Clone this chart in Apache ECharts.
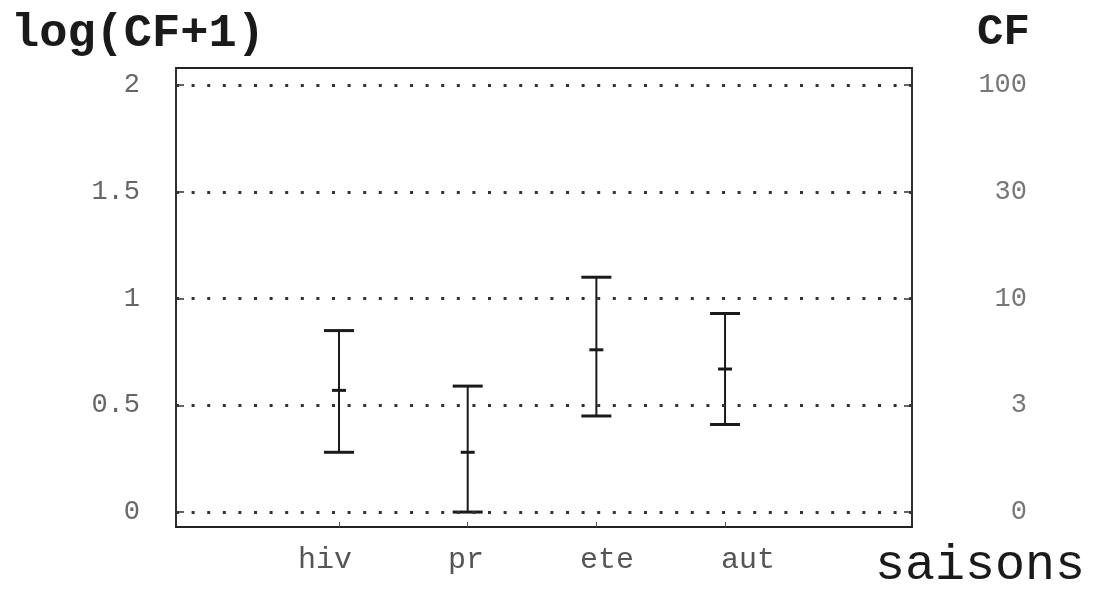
<!DOCTYPE html>
<html>
<head>
<meta charset="utf-8">
<script src="https://cdn.jsdelivr.net/npm/echarts@6/dist/echarts.min.js"></script>
<style>html,body{margin:0;padding:0;background:#fff}#c{width:1099px;height:589px}</style>
</head>
<body>
<div id="c"></div>
<script>
// ---- data ----
const categories = ['hiv', 'pr', 'ete', 'aut'];
const lowValues  = [0.28, 0.00, 0.45, 0.41];
const meanValues = [0.57, 0.28, 0.76, 0.67];
const highValues = [0.85, 0.59, 1.10, 0.93];
const leftTickValues = [0, 0.5, 1, 1.5, 2];
const leftTickLabels = ['0', '0.5', '1', '1.5', '2'];
const rightTickLabels = ['0', '3', '10', '30', '100'];
const yTitle = 'log(CF+1)';
const y2Title = 'CF';
const xTitle = 'saisons';

const chart = echarts.init(document.getElementById('c'));
const mono = 'Liberation Mono';
const barData = categories.map((c, i) => [i + 1, lowValues[i], meanValues[i], highValues[i]]);
const catPositions = categories.map((c, i) => i + 1);

chart.setOption({
  animation: false,
  backgroundColor: '#fff',
  title: [
    { text: yTitle, left: 6, top: 6, textStyle: { fontFamily: mono, fontWeight: 'bold', fontSize: 47, color: '#1a1a1a' } },
    { text: y2Title, left: 972, top: 6, textStyle: { fontFamily: mono, fontWeight: 'bold', fontSize: 44, color: '#1a1a1a' } },
    { text: xTitle, left: 870, top: 536, textStyle: { fontFamily: mono, fontWeight: 'normal', fontSize: 50, color: '#1a1a1a' } }
  ],
  grid: { left: 176, right: 187, top: 68, bottom: 62, show: true, borderColor: '#222', borderWidth: 2, backgroundColor: 'transparent' },
  xAxis: [
    {
      type: 'value', min: -0.267, max: 5.453, position: 'bottom',
      axisLine: { show: true, onZero: false, lineStyle: { color: '#222', width: 2 } },
      axisTick: { show: true, inside: true, length: 5, customValues: catPositions, lineStyle: { color: '#555' } },
      axisLabel: { show: false },
      splitLine: { show: false }
    },
    {
      type: 'value', min: -0.057, max: 5.163, position: 'bottom',
      axisLine: { show: false, onZero: false }, axisTick: { show: false },
      axisLabel: {
        show: true, customValues: catPositions, margin: 18,
        formatter: v => categories[Math.round(v) - 1] || '',
        fontFamily: mono, fontSize: 30, color: '#555'
      },
      splitLine: { show: false }
    }
  ],
  yAxis: [
    {
      type: 'value', min: -0.07, max: 2.08, position: 'left',
      axisLine: { show: true, onZero: false, lineStyle: { color: '#333', width: 1.5 } },
      axisTick: { show: true, inside: true, length: 8, customValues: leftTickValues, lineStyle: { color: '#333', width: 1.5 } },
      axisLabel: {
        customValues: leftTickValues, margin: 36, fontFamily: mono, fontSize: 27, color: '#666',
        formatter: v => leftTickLabels[leftTickValues.indexOf(v)] ?? ''
      },
      splitLine: { show: false }
    },
    {
      type: 'value', min: -0.07, max: 2.08, position: 'right',
      axisLine: { show: true, onZero: false, lineStyle: { color: '#333', width: 1.5 } },
      axisTick: { show: true, inside: true, length: 8, customValues: leftTickValues, lineStyle: { color: '#333', width: 1.5 } },
      axisLabel: {
        customValues: leftTickValues, margin: 115, align: 'right', fontFamily: mono, fontSize: 27, color: '#777',
        formatter: v => rightTickLabels[leftTickValues.indexOf(v)] ?? ''
      },
      splitLine: { show: false }
    }
  ],
  series: [
    {
      type: 'line', xAxisIndex: 0, yAxisIndex: 0, data: [], silent: true,
      markLine: {
        symbol: 'none', silent: true, label: { show: false },
        lineStyle: { color: '#333', width: 3, type: [3, 12.6] },
        data: leftTickValues.map(v => ({ yAxis: v }))
      }
    },
    {
      type: 'custom', xAxisIndex: 0, yAxisIndex: 0, data: barData,
      renderItem: function (params, api) {
        const x = api.value(0);
        const lo = api.coord([x, api.value(1)]);
        const mid = api.coord([x, api.value(2)]);
        const hi = api.coord([x, api.value(3)]);
        const cap = 15, tick = 7;
        const st = { stroke: '#1a1a1a', lineWidth: 2 };
        const capSt = { stroke: '#1a1a1a', lineWidth: 3 };
        return {
          type: 'group',
          children: [
            { type: 'line', shape: { x1: hi[0], y1: hi[1], x2: lo[0], y2: lo[1] }, style: st },
            { type: 'line', shape: { x1: hi[0] - cap, y1: hi[1], x2: hi[0] + cap, y2: hi[1] }, style: capSt },
            { type: 'line', shape: { x1: lo[0] - cap, y1: lo[1], x2: lo[0] + cap, y2: lo[1] }, style: capSt },
            { type: 'line', shape: { x1: mid[0] - tick, y1: mid[1], x2: mid[0] + tick, y2: mid[1] }, style: capSt }
          ]
        };
      }
    }
  ]
});
</script>
</body>
</html>
